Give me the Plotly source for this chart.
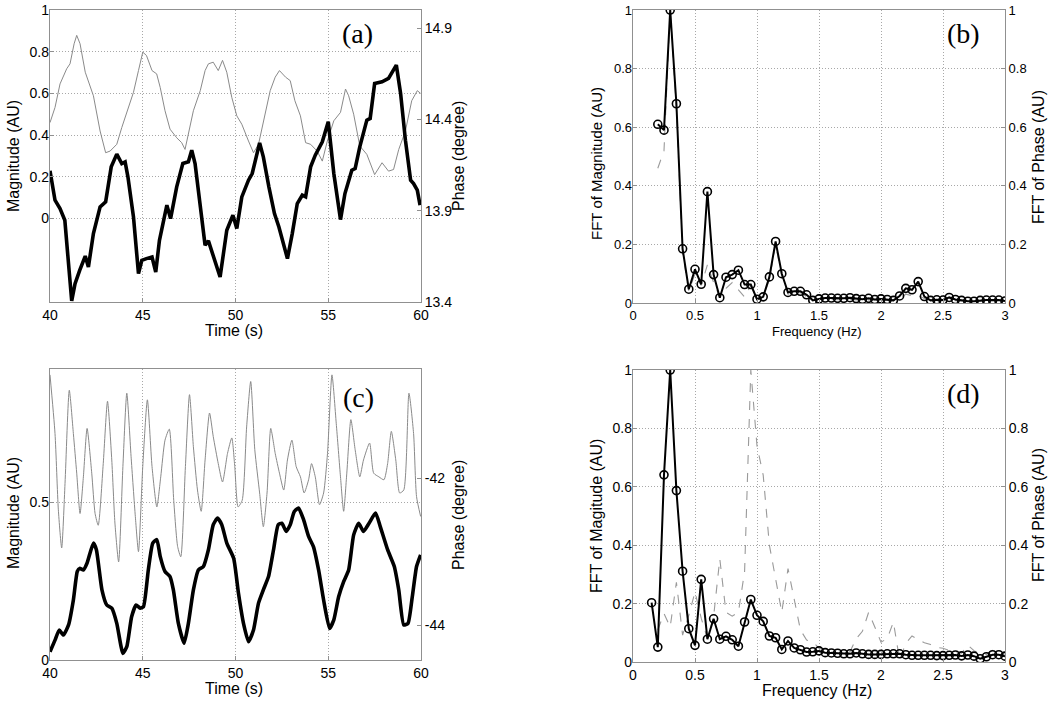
import plotly.graph_objects as go

# ---------------- data ----------------
# (a) time series
a_mag_t = [40.0,40.27,40.54,40.8,41.17,41.35,41.6,41.9,42.07,42.34,42.7,43.0,43.3,43.6,43.87,44.05,44.2,44.5,44.77,44.95,
           45.2,45.5,45.7,45.9,46.3,46.5,46.83,47.16,47.46,47.64,47.82,48.1,48.36,48.54,48.8,49.17,49.53,49.86,50.07,50.34,
           50.7,50.9,51.3,51.5,51.8,52.1,52.34,52.8,53.06,53.33,53.6,53.78,54.05,54.3,54.68,55.0,55.3,55.66,55.9,56.27,
           56.45,56.7,57.08,57.26,57.5,57.9,58.25,58.67,58.9,59.16,59.44,59.6,59.8,59.95]
a_mag_v = [0.229,0.088,0.048,-0.008,-0.395,-0.312,-0.248,-0.18,-0.232,-0.072,0.056,0.08,0.248,0.309,0.264,0.272,0.2,0.008,-0.264,-0.2,
           -0.192,-0.184,-0.256,-0.104,0.064,0.0,0.152,0.264,0.272,0.328,0.264,0.056,-0.128,-0.107,-0.184,-0.28,-0.056,0.016,-0.048,0.104,
           0.184,0.216,0.363,0.296,0.152,0.024,-0.04,-0.192,-0.072,0.072,0.112,0.104,0.248,0.304,0.368,0.464,0.216,-0.005,0.12,0.232,
           0.24,0.344,0.472,0.48,0.648,0.656,0.672,0.736,0.6,0.376,0.184,0.168,0.136,0.064]
a_ph_t = [40.0,40.27,40.54,40.9,41.08,41.3,41.44,41.62,41.9,42.07,42.34,42.7,43.0,43.24,43.6,43.87,44.23,44.5,44.77,45.0,
          45.2,45.5,45.75,45.94,46.2,46.47,46.83,47.1,47.28,47.46,47.73,48.1,48.36,48.54,48.8,49.07,49.3,49.53,49.8,50.07,
          50.34,50.7,50.97,51.24,51.5,51.87,52.14,52.37,52.7,52.95,53.2,53.5,53.78,54.05,54.4,54.68,54.95,55.3,55.66,55.93,
          56.1,56.37,56.7,57.08,57.5,57.9,58.25,58.52,58.8,59.16,59.5,59.8,59.98]
a_ph_v = [14.383,14.466,14.595,14.678,14.705,14.815,14.861,14.815,14.659,14.604,14.53,14.337,14.218,14.227,14.264,14.356,14.466,14.549,14.668,14.769,
          14.751,14.668,14.65,14.576,14.448,14.347,14.30,14.273,14.236,14.319,14.448,14.558,14.668,14.705,14.714,14.668,14.724,14.659,14.521,14.42,
          14.374,14.282,14.218,14.264,14.393,14.558,14.632,14.668,14.632,14.613,14.503,14.42,14.273,14.264,14.227,14.172,14.282,14.393,14.439,14.567,
          14.53,14.429,14.255,14.209,14.098,14.163,14.117,14.126,14.236,14.337,14.503,14.558,14.543]

# (c) time series
c_mag_t = [40.0,40.27,40.5,40.72,41.0,41.26,41.47,41.6,41.8,42.0,42.34,42.5,42.8,43.06,43.33,43.6,43.93,44.14,44.4,44.64,
           44.86,45.04,45.3,45.54,45.76,45.94,46.2,46.47,46.65,46.92,47.23,47.46,47.73,48.0,48.27,48.54,48.8,49.03,49.26,49.53,
           49.9,50.16,50.43,50.7,50.97,51.24,51.5,51.78,52.05,52.3,52.5,52.73,52.95,53.17,53.4,53.67,53.94,54.2,54.48,54.75,
           55.07,55.3,55.56,55.83,56.1,56.37,56.64,56.9,57.2,57.55,57.8,58.2,58.56,58.8,59.07,59.3,59.53,59.76,59.98]
c_mag_v = [0.026,0.063,0.095,0.079,0.111,0.19,0.28,0.29,0.285,0.307,0.37,0.349,0.222,0.174,0.164,0.116,0.021,0.042,0.137,0.174,
           0.164,0.169,0.285,0.37,0.381,0.328,0.28,0.264,0.222,0.116,0.053,0.116,0.222,0.285,0.296,0.349,0.428,0.449,0.428,0.37,
           0.322,0.211,0.116,0.058,0.095,0.18,0.222,0.264,0.349,0.428,0.433,0.407,0.428,0.47,0.481,0.444,0.391,0.359,0.285,0.19,
           0.1,0.127,0.2,0.248,0.285,0.396,0.433,0.407,0.433,0.465,0.423,0.349,0.296,0.222,0.111,0.116,0.2,0.296,0.333]
c_ph_t = [40.0,40.27,40.45,40.63,40.81,41.04,41.26,41.44,41.62,41.8,42.0,42.25,42.43,42.6,42.87,43.1,43.33,43.5,43.7,43.93,
          44.14,44.37,44.6,44.77,45.0,45.25,45.5,45.76,45.97,46.2,46.43,46.67,46.88,47.05,47.3,47.52,47.73,47.95,48.15,48.36,
          48.6,48.8,49.07,49.3,49.57,49.8,49.96,50.14,50.36,50.6,50.82,51.04,51.3,51.5,51.7,51.9,52.14,52.37,52.6,52.8,
          53.04,53.27,53.5,53.7,53.94,54.1,54.3,54.53,54.75,54.96,55.2,55.43,55.66,55.83,56.0,56.22,56.45,56.7,56.9,57.23,
          57.45,57.73,58.0,58.2,58.4,58.64,58.85,59.07,59.35,59.6,59.76,59.98]
c_ph_v = [-40.59,-41.39,-42.43,-42.95,-42.07,-40.80,-41.39,-41.93,-42.48,-41.98,-41.32,-41.93,-42.48,-42.64,-41.80,-40.95,-41.75,-42.61,-43.14,-41.84,
          -40.84,-41.70,-42.52,-43.0,-41.84,-40.93,-41.84,-42.39,-41.98,-41.48,-41.33,-42.30,-42.93,-43.07,-41.84,-40.86,-41.57,-42.16,-42.45,-41.75,
          -41.11,-41.43,-41.80,-42.05,-41.66,-41.45,-41.84,-42.39,-42.30,-41.30,-40.68,-41.61,-42.20,-42.66,-42.20,-41.32,-41.66,-41.93,-42.16,-41.75,
          -41.48,-41.84,-41.98,-42.20,-42.02,-41.80,-41.98,-42.36,-42.20,-41.66,-40.59,-41.25,-41.98,-42.45,-41.93,-41.20,-41.61,-41.98,-41.75,-41.52,
          -41.93,-41.98,-42.02,-41.80,-41.36,-41.75,-42.20,-42.16,-40.84,-41.39,-42.25,-42.52]

# (b) spectra
b_freq = [0.20,0.25,0.30,0.35,0.40,0.45,0.50,0.55,0.60,0.65,0.70,0.75,0.80,0.85,0.90,0.95,1.00,1.05,1.10,1.15,
          1.20,1.25,1.30,1.35,1.40,1.45,1.50,1.55,1.60,1.65,1.70,1.75,1.80,1.85,1.90,1.95,2.00,2.05,2.10,2.15,
          2.20,2.25,2.30,2.35,2.40,2.45,2.50,2.55,2.60,2.65,2.70,2.75,2.80,2.85,2.90,2.95,3.00]
b_mag = [0.61,0.59,1.0,0.68,0.185,0.047,0.115,0.064,0.38,0.097,0.018,0.088,0.097,0.112,0.063,0.063,0.013,0.021,0.089,0.21,
         0.1,0.036,0.04,0.04,0.028,0.009,0.014,0.017,0.017,0.016,0.016,0.018,0.015,0.013,0.016,0.012,0.014,0.012,0.009,0.024,
         0.05,0.045,0.073,0.022,0.009,0.011,0.01,0.019,0.012,0.009,0.006,0.006,0.009,0.01,0.01,0.01,0.007]
b_phase = [0.46,0.52,1.0,0.66,0.17,0.04,0.1,0.06,0.13,0.07,0.02,0.05,0.07,0.045,0.02,0.06,0.01,0.02,0.08,0.2,
           0.09,0.03,0.035,0.035,0.02,0.008,0.012,0.012,0.012,0.011,0.011,0.012,0.011,0.01,0.011,0.01,0.01,0.009,0.008,0.015,
           0.03,0.025,0.025,0.015,0.008,0.008,0.008,0.01,0.008,0.006,0.005,0.005,0.006,0.007,0.007,0.007,0.005]

# (d) spectra
d_freq = [0.15,0.20,0.25,0.30,0.35,0.40,0.45,0.50,0.55,0.60,0.65,0.70,0.75,0.80,0.85,0.90,0.95,1.00,1.05,1.10,
          1.15,1.20,1.25,1.30,1.35,1.40,1.45,1.50,1.55,1.60,1.65,1.70,1.75,1.80,1.85,1.90,1.95,2.00,2.05,2.10,
          2.15,2.20,2.25,2.30,2.35,2.40,2.45,2.50,2.55,2.60,2.65,2.70,2.75,2.80,2.85,2.90,2.95,3.00]
d_mag = [0.203,0.051,0.641,1.0,0.587,0.311,0.114,0.057,0.283,0.078,0.148,0.078,0.088,0.076,0.054,0.137,0.214,0.16,0.139,0.089,
         0.083,0.043,0.072,0.048,0.042,0.034,0.035,0.038,0.032,0.031,0.03,0.028,0.028,0.031,0.028,0.026,0.026,0.026,0.028,0.028,
         0.028,0.025,0.023,0.023,0.023,0.023,0.022,0.022,0.023,0.024,0.021,0.024,0.02,0.011,0.018,0.025,0.025,0.02]
d_phase_freq = b_freq
d_phase = [0.11,0.166,0.12,0.273,0.092,0.16,0.24,0.15,0.08,0.155,0.353,0.17,0.157,0.17,0.31,1.0,0.74,0.64,0.4,0.28,
           0.17,0.32,0.21,0.11,0.075,0.07,0.047,0.04,0.035,0.03,0.028,0.035,0.08,0.105,0.17,0.12,0.068,0.08,0.137,0.007,
           0.064,0.089,0.078,0.066,0.06,0.05,0.047,0.04,0.032,0.03,0.058,0.039,0.027,0.026,0.04,0.035,0.027]

time_ticks = [40, 45, 50, 55, 60]
freq_ticks = [0, 0.5, 1, 1.5, 2, 2.5, 3]
unit_ticks = [0, 0.2, 0.4, 0.6, 0.8, 1]
freq_tick_text = ["0", "0.5", "1", "1.5", "2", "2.5", "3"]
unit_tick_text = ["0", "0.2", "0.4", "0.6", "0.8", "1"]

# ---------------- figure ----------------
W, H = 1050, 702
SANS = "Liberation Sans, Arial, sans-serif"
SERIF = "Liberation Serif, Times New Roman, serif"
FRAME = "#909090"
GRID = "#a8a8a8"
GDASH = "1px,2px"

def px(x):
    return x / W

def py(y):
    return 1 - y / H

fig = go.Figure()

THICK = dict(color="black", width=3.6)
THIN = dict(color="#8a8a8a", width=1)
DASH = dict(color="#9a9a9a", width=1.1, dash="dash")
MKLINE = dict(color="black", width=2)
MARK = dict(symbol="circle-open", size=8, color="black", line=dict(width=1.6, color="black"))

# (a)
fig.add_trace(go.Scatter(x=a_ph_t, y=a_ph_v, mode="lines", line=THIN, xaxis="x", yaxis="y"))
fig.add_trace(go.Scatter(x=a_mag_t, y=a_mag_v, mode="lines", line=THICK, xaxis="x", yaxis="y2"))
# (b)
fig.add_trace(go.Scatter(x=b_freq, y=b_phase, mode="lines", line=DASH, xaxis="x2", yaxis="y3"))
fig.add_trace(go.Scatter(x=b_freq, y=b_mag, mode="lines+markers", line=MKLINE, marker=MARK, xaxis="x2", yaxis="y4"))
# (c)
fig.add_trace(go.Scatter(x=c_ph_t, y=c_ph_v, mode="lines",
                         line=dict(color="#8a8a8a", width=1, shape="spline", smoothing=0.6), xaxis="x3", yaxis="y5"))
fig.add_trace(go.Scatter(x=c_mag_t, y=c_mag_v, mode="lines",
                         line=dict(color="black", width=3.6, shape="spline", smoothing=0.5), xaxis="x3", yaxis="y6"))
# (d)
fig.add_trace(go.Scatter(x=d_phase_freq, y=d_phase, mode="lines", line=DASH, xaxis="x4", yaxis="y7"))
fig.add_trace(go.Scatter(x=d_freq, y=d_mag, mode="lines+markers", line=MKLINE, marker=MARK, xaxis="x4", yaxis="y8"))

tickfont = dict(family=SANS, size=14, color="black")
tickfont_b = dict(family=SANS, size=13, color="black")

def xax(dom, anchor, rng, tv, tt, tf):
    return dict(domain=dom, anchor=anchor, range=rng, tickvals=tv, ticktext=tt, tickfont=tf,
                showgrid=True, gridcolor=GRID, griddash=GDASH, gridwidth=1,
                showline=True, linecolor=FRAME, linewidth=1, mirror=True, automargin=False,
                ticks="inside", ticklen=4, tickcolor=FRAME, zeroline=False, fixedrange=True)

def yright(dom, anchor, rng, tv, tt, tf):
    return dict(domain=dom, anchor=anchor, range=rng, tickvals=tv, ticktext=tt, tickfont=tf, side="right",
                showgrid=False, showline=True, linecolor=FRAME, linewidth=1, mirror=True, automargin=False,
                ticks="inside", ticklen=4, tickcolor=FRAME, zeroline=False, fixedrange=True)

def yleft(over, anchor, rng, tv, tt, tf):
    return dict(overlaying=over, anchor=anchor, range=rng, tickvals=tv, ticktext=tt, tickfont=tf, side="left",
                showgrid=True, gridcolor=GRID, griddash=GDASH, gridwidth=1, automargin=False,
                showline=False, ticks="inside", ticklen=4, tickcolor=FRAME, zeroline=False, fixedrange=True)

xa = [px(50), px(421)]
xb = [px(633), px(1005)]
ya = [py(302), py(10)]
yb = [py(303), py(10)]
yc = [py(660), py(369)]
yd = [py(662), py(370)]

time_text = [str(t) for t in time_ticks]

fig.update_layout(
    template="none",
    width=W, height=H,
    margin=dict(l=0, r=0, t=0, b=0, pad=0, autoexpand=False),
    paper_bgcolor="white", plot_bgcolor="white",
    showlegend=False,
    hovermode=False,
    xaxis=xax(xa, "y", [40, 60], time_ticks, time_text, tickfont),
    yaxis=yright(ya, "x", [13.4, 15.0], [13.4, 13.9, 14.4, 14.9], ["13.4", "13.9", "14.4", "14.9"], tickfont),
    yaxis2=yleft("y", "x", [-0.4, 1.0], unit_ticks, unit_tick_text, tickfont),
    xaxis2=xax(xb, "y3", [0, 3], freq_ticks, freq_tick_text, tickfont_b),
    yaxis3=yright(yb, "x2", [0, 1], unit_ticks, unit_tick_text, tickfont_b),
    yaxis4=yleft("y3", "x2", [0, 1], unit_ticks, unit_tick_text, tickfont_b),
    xaxis3=xax(xa, "y5", [40, 60], time_ticks, time_text, tickfont),
    yaxis5=yright(yc, "x3", [-44.477, -40.51], [-44, -42], ["-44", "-42"], tickfont),
    yaxis6=yleft("y5", "x3", [0, 0.921], [0, 0.5], ["0", "0.5"], tickfont),
    xaxis4=xax(xb, "y7", [0, 3], freq_ticks, freq_tick_text, tickfont),
    yaxis7=yright(yd, "x4", [0, 1], unit_ticks, unit_tick_text, tickfont),
    yaxis8=yleft("y7", "x4", [0, 1], unit_ticks, unit_tick_text, tickfont),
)

def note(text, x, y, size, angle=0, family=SANS):
    fig.add_annotation(text=text, x=px(x), y=py(y), xref="paper", yref="paper",
                       showarrow=False, textangle=angle, xanchor="center", yanchor="middle",
                       font=dict(family=family, size=size, color="black"))

# axis titles
note("Magnitude (AU)", 13, 156, 16, -90)
note("Phase (degree)", 458, 156, 16, -90)
note("Time (s)", 234, 330, 16)
note("FFT of Magnitude (AU)", 596, 164, 15, -90)
note("FFT of Phase (AU)", 1038, 157, 16, -90)
note("Frequency (Hz)", 817, 331, 13)
note("Magnitude (AU)", 13, 513, 16, -90)
note("Phase (degree)", 458, 515, 16, -90)
note("Time (s)", 234, 688, 16)
note("FFT of Magitude (AU)", 596, 516, 16, -90)
note("FFT of Phase (AU)", 1038, 515, 16, -90)
note("Frequency (Hz)", 817, 690, 16)

# panel labels
note("(a)", 357, 33, 28, family=SERIF)
note("(b)", 963, 33, 28, family=SERIF)
note("(c)", 358, 397, 28, family=SERIF)
note("(d)", 963, 393, 28, family=SERIF)

fig.write_html("out.html", config={"displayModeBar": False, "staticPlot": True},
               post_script="document.body.style.margin='0';document.body.style.overflow='hidden';")
